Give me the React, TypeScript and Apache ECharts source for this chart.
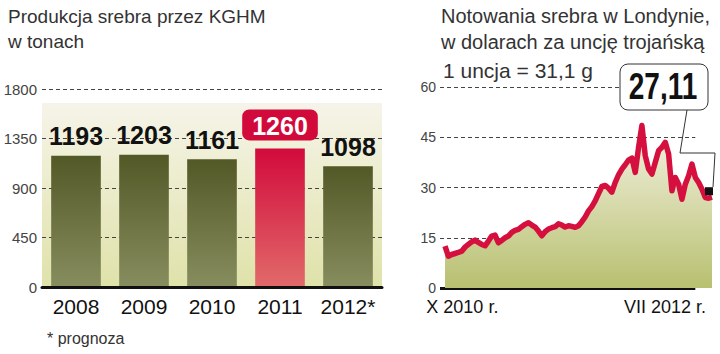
import React, { useEffect, useRef } from "react";
import * as echarts from "echarts";

const years = ["2008", "2009", "2010", "2011", "2012*"];
const production = [1193, 1203, 1161, 1260, 1098];
const highlightIndex = 3;
const prodTicks = [0, 450, 900, 1350, 1800];

const silverPrices = [
  12.5, 9.5, 10.0, 10.3, 10.6, 11.0, 12.2, 13.0, 13.8, 14.3,
  13.6, 13.0, 12.6, 14.0, 15.5, 15.8, 13.5, 14.2, 15.0, 15.5,
  16.6, 17.2, 17.5, 18.3, 19.0, 19.5, 18.8, 18.2, 17.0, 15.6,
  16.8, 17.6, 18.0, 18.3, 19.2, 18.8, 18.2, 18.6, 18.4, 18.1,
  18.6, 19.8, 21.2, 23.0, 24.3, 26.0, 28.2, 30.3, 30.6, 29.8,
  28.6, 31.5, 33.8, 35.5, 36.8, 38.2, 38.8, 34.5, 42.0, 48.5,
  39.5, 35.5, 34.0, 37.5, 41.0, 42.0, 43.5, 40.0, 29.0, 33.0,
  31.0, 26.5, 31.0, 33.5, 37.0, 33.0, 31.5, 29.5, 27.0, 26.8,
  27.1,
];
const priceTicks = [0, 15, 30, 45, 60];
const priceXMin = -1.5;
const priceGridEnd = 75;
const priceXTickPos = [5.2, 65.9];
const priceXTickLabels = ["X 2010 r.", "VII 2012 r."];
const lastPriceText = "27,11";

const leftTitle = "Produkcja srebra przez KGHM\nw tonach";
const rightTitle = "Notowania srebra w Londynie,\nw dolarach za uncję trojańską";
const rightSubtitle = "1 uncja = 31,1 g";
const footnote = "* prognoza";

const SANS = "'Liberation Sans', Arial, sans-serif";

export default function App() {
  const ref = useRef<HTMLDivElement>(null);
  useEffect(() => {
    if (!ref.current) return;
    const chart = echarts.init(ref.current, null, { renderer: "svg" });
    const olive = new echarts.graphic.LinearGradient(0, 0, 0, 1, [
      { offset: 0, color: "#535827" },
      { offset: 1, color: "#878d5e" },
    ]);
    const red = new echarts.graphic.LinearGradient(0, 0, 0, 1, [
      { offset: 0, color: "#d20a3c" },
      { offset: 1, color: "#e16a6a" },
    ]);
    const dashed = { show: true, lineStyle: { color: "#444", width: 1, type: [4, 3] as any } };
    const lastIdx = silverPrices.length - 1;

    const gridLines = priceTicks
      .filter((t) => t > 0)
      .map((t) => [
        { coord: [priceXMin, t], lineStyle: { color: "#444", width: 1, type: [4, 3] } },
        { coord: [priceGridEnd, t] },
      ]);
    const baseLine = [
      { coord: [priceXMin, 0], lineStyle: { color: "#111", width: 3, type: "solid" } },
      { coord: [priceGridEnd, 0] },
    ];

    chart.setOption({
      animation: false,
      textStyle: { fontFamily: SANS },
      grid: [
        { left: 42, right: 338, top: 89, bottom: 67 },
        { left: 440, right: 8, top: 87, bottom: 66 },
      ],
      xAxis: [
        {
          gridIndex: 0,
          type: "category",
          data: years,
          axisLine: { show: true, lineStyle: { color: "#111", width: 3 } },
          axisTick: { show: false },
          axisLabel: { fontSize: 21, color: "#111", margin: 9, fontFamily: SANS, interval: 0 },
          z: 5,
        },
        {
          gridIndex: 1,
          type: "value",
          min: priceXMin,
          max: lastIdx,
          axisLine: { show: false },
          axisTick: { show: false },
          splitLine: { show: false },
          axisLabel: {
            customValues: priceXTickPos,
            formatter: (v: number) => {
              const i = priceXTickPos.findIndex((p) => Math.abs(p - v) < 0.01);
              return i >= 0 ? priceXTickLabels[i] : "";
            },
            fontSize: 18,
            color: "#111",
            margin: 10,
            fontFamily: SANS,
          },
        },
      ],
      yAxis: [
        {
          gridIndex: 0,
          type: "value",
          min: prodTicks[0],
          max: prodTicks[prodTicks.length - 1],
          interval: 450,
          axisLine: { show: false },
          axisTick: { show: false },
          axisLabel: {
            fontSize: 15,
            color: "#444",
            margin: 5,
            fontFamily: SANS,
            formatter: (v: number) => String(v),
          },
          splitLine: dashed,
        },
        {
          gridIndex: 1,
          type: "value",
          min: priceTicks[0],
          max: priceTicks[priceTicks.length - 1],
          interval: 15,
          axisLine: { show: false },
          axisTick: { show: false },
          axisLabel: {
            fontSize: 14,
            color: "#444",
            margin: 4,
            fontFamily: SANS,
            formatter: (v: number) => String(v),
          },
          splitLine: { show: false },
        },
      ],
      graphic: [
        {
          type: "rect",
          z: -10,
          silent: true,
          shape: { x: 42, y: 103, width: 340, height: 184 },
          style: {
            fill: new echarts.graphic.LinearGradient(0, 0, 0, 1, [
              { offset: 0, color: "#f6f4e9" },
              { offset: 1, color: "#dfe2a9" },
            ]),
          },
        },
        {
          type: "text",
          left: 8,
          top: 4,
          style: { text: leftTitle, font: `19px ${SANS}`, fill: "#333", lineHeight: 25 },
        },
        {
          type: "text",
          left: 441,
          top: 3,
          style: { text: rightTitle, font: `20px ${SANS}`, fill: "#333", lineHeight: 26 },
        },
        {
          type: "text",
          left: 443,
          top: 60,
          style: { text: rightSubtitle, font: `21px ${SANS}`, fill: "#333" },
        },
        {
          type: "text",
          left: 47,
          top: 330,
          style: { text: footnote, font: `16px ${SANS}`, fill: "#333" },
        },
        {
          type: "polyline",
          z: 20,
          shape: { points: [[687, 110], [680, 153], [715, 153], [713, 187]] },
          style: { stroke: "#333", lineWidth: 1, fill: null },
        },
        {
          type: "rect",
          z: 20,
          shape: { x: 620, y: 64, width: 88, height: 46, r: 8 },
          style: { fill: "#fff", stroke: "#333", lineWidth: 1 },
        },
        {
          type: "text",
          z: 21,
          x: 663,
          y: 87,
          scaleY: 1.3,
          style: {
            text: lastPriceText,
            font: `bold 28px ${SANS}`,
            fill: "#111",
            align: "center",
            verticalAlign: "middle",
          },
        },
      ],
      series: [
        {
          type: "bar",
          xAxisIndex: 0,
          yAxisIndex: 0,
          barCategoryGap: "27%",
          data: production.map((v, i) => ({
            value: v,
            itemStyle: { color: i === highlightIndex ? red : olive },
            label:
              i === highlightIndex
                ? {
                    color: "#fff",
                    backgroundColor: "#d20a3c",
                    borderRadius: 7,
                    padding: [4, 10, 2, 10],
                    distance: 8,
                  }
                : {},
          })),
          label: {
            show: true,
            position: "top",
            distance: 7,
            fontSize: 25,
            fontWeight: "bold",
            fontFamily: SANS,
            color: "#111",
          },
        },
        {
          type: "line",
          xAxisIndex: 1,
          yAxisIndex: 1,
          symbol: "none",
          data: silverPrices.map((v, i) => [i, v]),
          lineStyle: { color: "#d5103f", width: 5.5, join: "round" },
          areaStyle: {
            color: new echarts.graphic.LinearGradient(0, 0, 0, 1, [
              { offset: 0, color: "#f4f2e3" },
              { offset: 1, color: "#b8c070" },
            ]),
            opacity: 1,
          },
          markLine: {
            silent: true,
            symbol: "none",
            label: { show: false },
            z: 1,
            data: [...gridLines, baseLine],
          },
          markPoint: {
            symbol: "rect",
            symbolSize: 8,
            symbolOffset: [-3, -6],
            itemStyle: { color: "#111" },
            label: { show: false },
            data: [{ coord: [lastIdx, silverPrices[lastIdx]] }],
          },
          z: 3,
        },
      ],
    });
    return () => chart.dispose();
  }, []);
  return (
    <div
      ref={ref}
      style={{ position: "absolute", left: 0, top: 0, width: 720, height: 354, background: "#fff" }}
    />
  );
}
